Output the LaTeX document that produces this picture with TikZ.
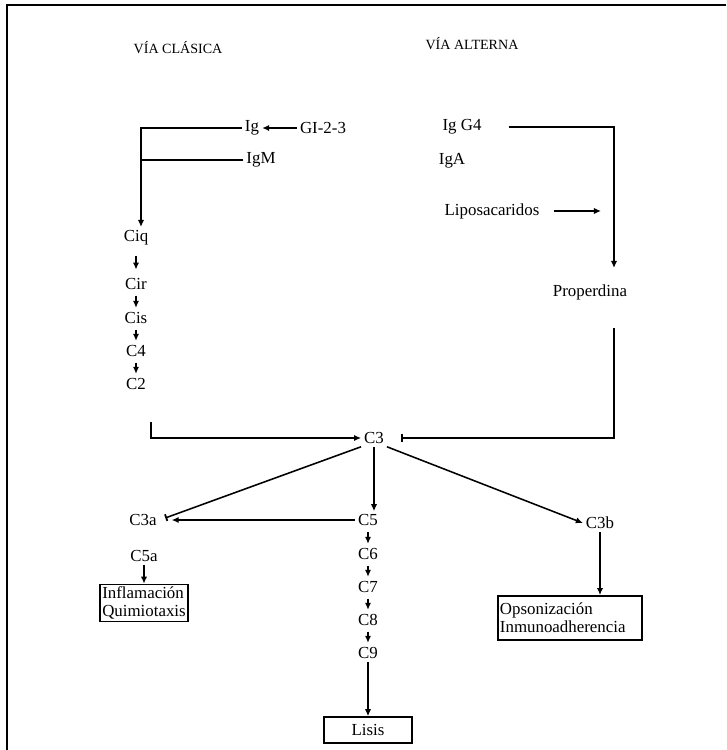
\documentclass[tikz,border=0pt]{standalone}
\usepackage{fontspec}
\setmainfont{Liberation Serif}
\usetikzlibrary{arrows.meta}

\begin{document}
\begin{tikzpicture}[x=0.025cm,y=-0.025cm,
  every node/.style={font=\fontsize{12}{13}\selectfont,inner sep=2pt},
  linea/.style={draw=black,line width=1.1pt},
  flecha/.style={linea,-{Latex[length=5pt,width=4.5pt]}},
  paso/.style={flecha,shorten <=2pt,shorten >=1pt},
  tope/.style={linea,-{Bar[width=5pt,line width=1.3pt]}},
  caja/.style={draw=black,line width=1.1pt,align=left,inner sep=1.5pt}]

\useasboundingbox (0,0) rectangle (726,750);
\path[draw=black,line width=1.2pt] (726,5) -- (7,5) -- (7,750);

\node[font=\fontsize{10}{12}\selectfont] (vc) at (178,48) {VÍA CLÁSICA};
\node[font=\fontsize{10}{12}\selectfont] (va) at (472,44) {VÍA ALTERNA};

%clasica
\node (ig) at (252,128) {Ig};
\node (gi) at (323,128) {GI-2-3};
\node (igm) at (261,160) {IgM};
\coordinate (ciqin) at (141,227);
\path[flecha] (gi.west) -- (ig.east);
\path[flecha] (ig.west) -| (ciqin);
\path[linea] (igm.west) -- (igm.west -| ciqin);

\node (ciq) at (136,238) {Ciq};
\node (cir) at (136,284) {Cir};
\node (cis) at (136,318) {Cis};
\node (c4) at (136,351) {C4};
\node (c2) at (136,384) {C2};
\path[paso,shorten <=5pt,shorten >=4pt] (ciq) -- (cir);
\path[paso] (cir) -- (cis);
\path[paso] (cis) -- (c4);
\path[paso] (c4) -- (c2);

%alterna
\node (igg4) at (462,127) {Ig G4};
\node (iga) at (452,161) {IgA};
\node (lipo) at (492,211) {Liposacaridos};
\node (prop) at (590,292) {Properdina};
\coordinate (propin) at (614,268);
\coordinate (lipoend) at (601,211);
\coordinate (propout) at (614,328);
\path[flecha,shorten <=0.6cm] (igg4.east) -| (propin);
\path[flecha,shorten <=0.3cm] (lipo.east) -- (lipoend);

%c3
\node (c3) at (374,438) {C3};
\coordinate (c2out) at (151,422);
\path[flecha] (c2out) |- (c3.west);
\path[tope,shorten >=0.35cm] (propout) |- (c3.east);

%c3a y c5a
\node (c3a) at (143,520) {C3a};
\node (c5a) at (144,556) {C5a};
\node[caja] (infl) at (144,603) {Inflamación\\Quimiotaxis};
\path[tope,shorten >=0.15cm] (c3.south west) -- (c3a.east);
\path[flecha] (c5a) -- (infl);

%c5 - c9
\node (c5) at (368,520) {C5};
\node (c6) at (368,554) {C6};
\node (c7) at (368,587) {C7};
\node (c8) at (368,620) {C8};
\node (c9) at (368,653) {C9};
\node[caja,align=center,minimum width=2.2cm,minimum height=0.65cm] (lisis) at (368,730) {Lisis};
\path[flecha] (c3.south) -- (c3.south |- c5.north);
\path[flecha,shorten >=0.3cm] (c5.west) -- (c5.west -| c3a.east);
\path[paso] (c5) -- (c6);
\path[paso] (c6) -- (c7);
\path[paso] (c7) -- (c8);
\path[paso] (c8) -- (c9);
\path[flecha] (c9) -- (lisis);

%c3b
\node (c3b) at (600,523) {C3b};
\node[caja,text width=3.5cm,inner ysep=5pt] (opson) at (570,618) {Opsonización\\Inmunoadherencia};
\path[flecha] (c3.south east) -- (c3b.west);
\path[flecha] (c3b.south) -- (c3b.south |- opson.north);

\end{tikzpicture}
\end{document}
